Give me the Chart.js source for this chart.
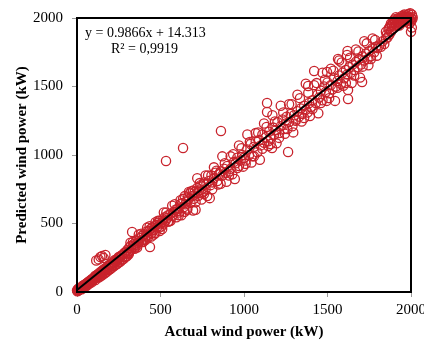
<!DOCTYPE html>
<html><head><meta charset="utf-8">
<script src="https://cdn.jsdelivr.net/npm/chart.js@4/dist/chart.umd.min.js"></script>
<style>html,body{margin:0;padding:0;background:#fff}</style>
</head><body>
<canvas id="c" width="424" height="341"></canvas>
<script>
// Actual wind power (kW) vs predicted wind power (kW), by range
const lowActual = [0,2,5,8,10,12,15,18,20,22,25,28,30,33,35,38,40,42,45,48,50,52,55,58,60,63,65,68,70,72,75,78,80,83,85,88,90,93,95,98];
const lowPredicted = [12,5,20,10,25,15,18,30,22,28,35,20,38,30,45,33,50,36,42,55,48,40,60,52,66,50,70,58,75,62,80,68,72,88,78,70,95,84,90,100];

const smallActual = [102,105,108,110,112,115,118,120,122,125,128,130,132,135,138,140,142,145,148,150,152,155,158,160,162,165,168,170,175,180,185,190,195,200,205,210,215,220,225,230,235,240,245,250,255,260,270,280,290,300,
  130,150,170,190,210,230,250,270,290,310,110,140,160,180,200,220,240,260,280,300];
const smallPredicted = [95,110,100,118,105,230,112,125,108,130,120,238,125,140,128,255,135,150,140,262,145,160,150,248,155,170,158,270,175,172,190,180,200,198,205,192,218,210,232,220,238,230,245,255,250,262,268,282,290,305,
  105,122,140,160,178,196,215,235,255,275,88,115,132,150,168,188,205,222,242,262];

const midLowActual = [305,310,315,320,325,330,335,340,345,350,355,360,365,370,380,385,390,395,400,405,410,415,420,425,430,437,440,445,450,455,460,465,470,475,480,485,490,495,500,505,510,515,520,525,530,533,540,545,550,560,570,580,590,600];
const midLowPredicted = [290,320,300,335,310,438,330,350,325,345,375,340,370,360,395,365,410,380,420,390,405,440,412,400,445,329,460,430,470,448,455,480,430,490,472,505,468,520,495,478,510,530,500,545,520,956,540,560,515,570,555,585,600,590];

const midActual = [605,610,618,625,630,635,640,645,650,655,660,665,670,675,680,690,695,700,705,710,715,720,725,730,740,745,750,755,760,770,775,780,790,800,805,810,820,830,840,850,860,862,870,880,890,900,910,920,930,940,950,960,970,980,990,1000];
const midPredicted = [610,580,640,560,650,1051,620,700,640,660,610,690,680,720,650,700,740,680,730,600,720,760,700,740,780,720,770,730,800,750,790,700,810,780,850,800,830,870,810,860,880,1175,850,900,870,920,880,900,860,950,940,980,920,960,1000,980];

const midHighActual = [1010,1020,1030,1040,1050,1060,1070,1080,1090,1100,1110,1120,1130,1138,1138,1145,1150,1160,1168,1175,1180,1190,1200,1210,1220,1230,1240,1250,1255,1264,1270,1280,1290,1300,1310,1320,1330,1340,1350,1360,1370,1380,1384,1390,1400];
const midHighPredicted = [960,1040,1000,1080,990,1060,1100,1020,1110,1070,1150,1090,1130,1380,1314,1100,1170,1120,1051,1200,1150,1180,1240,1160,1210,1260,1190,1230,1280,1022,1240,1300,1210,1290,1260,1320,1280,1340,1300,1360,1330,1310,1504,1380,1350];

const highActual = [1410,1420,1430,1440,1450,1460,1470,1480,1490,1497,1500,1510,1520,1530,1540,1550,1560,1563,1570,1580,1590,1600,1610,1617,1620,1623,1623,1630,1640,1650,1660,1670,1680,1690,1700,1707,1710,1720,1730,1740,1750,1760,1770,1780,1790,1800];
const highPredicted = [1400,1613,1380,1440,1420,1470,1400,1500,1460,1606,1530,1450,1510,1480,1560,1500,1540,1701,1580,1520,1600,1560,1620,1730,1590,1409,1475,1640,1600,1660,1620,1680,1640,1700,1660,1533,1720,1690,1740,1700,1760,1720,1780,1750,1790,1780];

const ratedActual = [1810,1820,1830,1840,1850,1855,1860,1865,1870,1875,1880,1885,1890,1895,1900,1905,1910,1915,1920,1925,1930,1935,1940,1945,1950,1955,1960,1965,1970,1975,1980,1985,1990,1995,2000,1880,1900,1920,1940,1960,1980,2000,1990,1970,1950,1930,1910,1890,1870,1850,
  2005,2010,1995,2008,1985,1975,1960,1945,1925,1905,2000,2005];
const ratedPredicted = [1800,1790,1830,1810,1850,1880,1860,1920,1880,1940,1900,1950,1920,1960,1940,1980,1950,1990,1970,2000,1960,1990,1980,2005,1990,2000,1970,2010,1990,2000,1995,2010,2000,1985,2000,1960,1990,1950,1995,2010,1980,1975,1960,2010,1975,1945,2005,1970,1930,1900,
  2025,2005,2035,1990,2030,2020,2025,2015,1985,1965,1900,1930];

// wider scatter around the fit in the middle of the range
const spreadActual = [320,345,370,395,420,445,470,495,520,545,570,595,620,645,670,695,720,745,770,795,820,845,870,895,920,945,970,995,1020,1045,1070,1095,1120,1145,1170,1195,1220,1245,1270,1295,1320,1345,1370,1395,1420,1445,1470,1495,1520,1545,1570,1595,1620,1645,1670,1695,1720,1745,1770,1795];
const spreadPredicted = [360,315,420,365,470,405,510,445,580,515,630,545,670,585,730,595,830,675,850,685,910,785,990,805,990,825,1070,915,1150,945,1160,965,1230,1065,1290,1085,1360,1155,1370,1165,1440,1245,1520,1285,1510,1305,1600,1395,1630,1395,1690,1505,1760,1525,1770,1565,1830,1655,1850,1725];

const bandActual = [310,335,360,385,410,435,460,485,510,535,560,585,610,635,660,685,710,735,760,785,810,835,860,885,910,935,960,985,1010,1035,1060,1085,1110,1135,1160,1185,1210,1235,1260,1285,1310,1335,1360,1385,1410,1435,1460,1485,1510,1535,1560,1585,1610,1635,1660,1685,1710,1735,1760,1785];
const bandPredicted = [285,365,325,425,380,480,420,520,460,580,520,640,560,680,600,735,655,795,715,850,750,885,790,940,850,1005,905,1050,935,1095,990,1165,1045,1205,1080,1245,1125,1310,1190,1370,1250,1415,1270,1455,1335,1525,1380,1550,1415,1615,1490,1675,1525,1710,1580,1755,1645,1815,1700,1840];

// Linear trend line end points (y = 0.9866x + 14.313)
const trendActual = [0, 2000];
const trendPredicted = [14.3, 1987.5];

const equationText = 'y = 0.9866x + 14.313';
const r2Text = 'R\u00B2 = 0,9919';
const xTicks = [0, 500, 1000, 1500, 2000];
const yTicks = [0, 500, 1000, 1500, 2000];

const allActual = [].concat(lowActual, smallActual, midLowActual, midActual, midHighActual, highActual, ratedActual, spreadActual, bandActual);
const allPredicted = [].concat(lowPredicted, smallPredicted, midLowPredicted, midPredicted, midHighPredicted, highPredicted, ratedPredicted, spreadPredicted, bandPredicted);
const scatterData = allActual.map((x, i) => ({x: x, y: allPredicted[i]}));
const trendData = trendActual.map((x, i) => ({x: x, y: trendPredicted[i]}));

const SERIF = '"Liberation Serif", "Times New Roman", serif';
const RED = '#C8232C';

const framePlugin = {
  id: 'frame',
  afterDatasetsDraw(chart) {
    const {ctx, chartArea: a} = chart;
    ctx.save();
    ctx.strokeStyle = '#000';
    ctx.lineWidth = 2;
    ctx.strokeRect(a.left, a.top, a.right - a.left, a.bottom - a.top);
    ctx.fillStyle = '#000';
    ctx.font = '14px ' + SERIF;
    ctx.textBaseline = 'middle';
    ctx.textAlign = 'left';
    ctx.fillText(equationText, 85, 33);
    ctx.fillText(r2Text, 111, 49);
    ctx.restore();
  }
};

new Chart(document.getElementById('c'), {
  type: 'scatter',
  data: {
    datasets: [
      {
        type: 'line', data: trendData, borderColor: '#000', borderWidth: 2,
        pointRadius: 0, fill: false, order: 0, showLine: true
      },
      {
        type: 'scatter', data: scatterData, order: 1, clip: false,
        pointRadius: 4.6, pointBorderWidth: 1.3, borderColor: RED,
        pointBorderColor: RED, pointBackgroundColor: 'rgba(0,0,0,0)', backgroundColor: 'rgba(0,0,0,0)'
      }
    ]
  },
  options: {
    responsive: false, animation: false,
    layout: {padding: {top: 18, right: 13, left: 0, bottom: 0}},
    plugins: {legend: {display: false}, tooltip: {enabled: false}},
    scales: {
      x: {
        type: 'linear', min: 0, max: 2000, position: 'bottom',
        afterBuildTicks(s) { s.ticks = xTicks.map(v => ({value: v})); },
        ticks: {color: '#000', font: {family: SERIF, size: 15}, padding: 4, maxRotation: 0, autoSkip: false,
          callback: v => String(v)},
        grid: {display: true, drawOnChartArea: false, drawTicks: true, tickLength: 5, color: '#999'},
        border: {display: false},
        title: {display: true, text: 'Actual wind power (kW)', color: '#000',
          font: {family: SERIF, size: 15, weight: 'bold'}, padding: {top: 0, bottom: 0}},
        afterFit(s) { s.height = 49; s.paddingLeft = 0; s.paddingRight = 0; }
      },
      y: {
        type: 'linear', min: 0, max: 2000, position: 'left',
        afterBuildTicks(s) { s.ticks = yTicks.map(v => ({value: v})); },
        ticks: {color: '#000', font: {family: SERIF, size: 15}, padding: 9, autoSkip: false,
          callback: v => String(v)},
        grid: {display: true, drawOnChartArea: false, drawTicks: true, tickLength: 5, color: '#999'},
        border: {display: false},
        title: {display: true, text: 'Predicted wind power (kW)', color: '#000',
          font: {family: SERIF, size: 15, weight: 'bold'}, padding: {top: 13, bottom: 0}},
        afterFit(s) { s.width = 77; s.paddingTop = 0; s.paddingBottom = 0; }
      }
    }
  },
  plugins: [framePlugin]
});
</script>
</body></html>
